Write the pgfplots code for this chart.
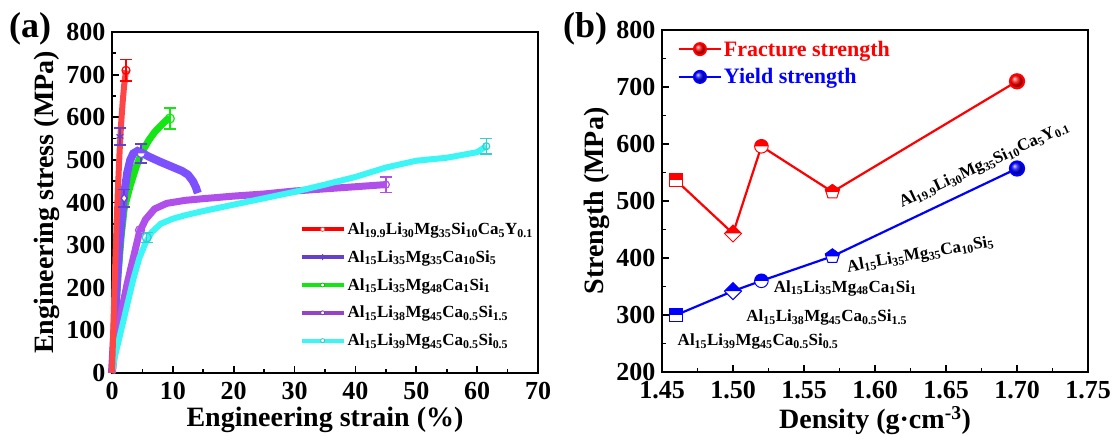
\documentclass[border=0pt]{standalone}
\usepackage{fontspec}
\setmainfont{Liberation Serif}
\usepackage{pgfplots}
\usepackage{pgfplotstable}
\pgfplotsset{compat=1.18}
\usetikzlibrary{plotmarks}
\newcommand{\s}[1]{\textsubscript{#1}}
\definecolor{cred}{RGB}{255,70,70}
\definecolor{cviolet}{RGB}{125,80,255}
\definecolor{cgreen}{RGB}{20,230,20}
\definecolor{cpurple}{RGB}{175,80,235}
\definecolor{ccyan}{RGB}{60,245,245}
\definecolor{bred}{RGB}{255,0,0}
\definecolor{bblue}{RGB}{0,0,255}
\newcommand\declhalfmarks[1]{%
\pgfdeclareplotmark{hsq#1}{%
 \pgfsetlinewidth{1pt}%
 \pgfpathrectangle{\pgfqpoint{-\pgfplotmarksize}{-\pgfplotmarksize}}{\pgfqpoint{2\pgfplotmarksize}{2\pgfplotmarksize}}%
 \pgfsetfillcolor{white}\pgfusepath{fill}%
 \pgfpathrectangle{\pgfqpoint{-\pgfplotmarksize}{0pt}}{\pgfqpoint{2\pgfplotmarksize}{\pgfplotmarksize}}%
 \pgfsetfillcolor{#1}\pgfusepath{fill}%
 \pgfpathrectangle{\pgfqpoint{-\pgfplotmarksize}{-\pgfplotmarksize}}{\pgfqpoint{2\pgfplotmarksize}{2\pgfplotmarksize}}%
 \pgfsetstrokecolor{#1}\pgfusepath{stroke}}%
\pgfdeclareplotmark{hdi#1}{%
 \pgfsetlinewidth{1pt}%
 \pgfpathmoveto{\pgfqpoint{0pt}{\pgfplotmarksize}}\pgfpathlineto{\pgfqpoint{\pgfplotmarksize}{0pt}}%
 \pgfpathlineto{\pgfqpoint{0pt}{-\pgfplotmarksize}}\pgfpathlineto{\pgfqpoint{-\pgfplotmarksize}{0pt}}\pgfpathclose
 \pgfsetfillcolor{white}\pgfusepath{fill}%
 \pgfpathmoveto{\pgfqpoint{0pt}{\pgfplotmarksize}}\pgfpathlineto{\pgfqpoint{\pgfplotmarksize}{0pt}}%
 \pgfpathlineto{\pgfqpoint{-\pgfplotmarksize}{0pt}}\pgfpathclose
 \pgfsetfillcolor{#1}\pgfusepath{fill}%
 \pgfpathmoveto{\pgfqpoint{0pt}{\pgfplotmarksize}}\pgfpathlineto{\pgfqpoint{\pgfplotmarksize}{0pt}}%
 \pgfpathlineto{\pgfqpoint{0pt}{-\pgfplotmarksize}}\pgfpathlineto{\pgfqpoint{-\pgfplotmarksize}{0pt}}\pgfpathclose
 \pgfsetstrokecolor{#1}\pgfusepath{stroke}}%
\pgfdeclareplotmark{hci#1}{%
 \pgfsetlinewidth{1pt}%
 \pgfpathcircle{\pgfpointorigin}{\pgfplotmarksize}%
 \pgfsetfillcolor{white}\pgfusepath{fill}%
 \pgfpathmoveto{\pgfqpoint{\pgfplotmarksize}{0pt}}\pgfpatharc{0}{180}{\pgfplotmarksize}\pgfpathclose
 \pgfsetfillcolor{#1}\pgfusepath{fill}%
 \pgfpathcircle{\pgfpointorigin}{\pgfplotmarksize}%
 \pgfsetstrokecolor{#1}\pgfusepath{stroke}}%
\pgfdeclareplotmark{hpe#1}{%
 \pgfsetlinewidth{1pt}%
 \pgfpathmoveto{\pgfqpoint{0pt}{\pgfplotmarksize}}%
 \pgfpathlineto{\pgfqpoint{-0.951\pgfplotmarksize}{0.309\pgfplotmarksize}}%
 \pgfpathlineto{\pgfqpoint{-0.588\pgfplotmarksize}{-0.809\pgfplotmarksize}}%
 \pgfpathlineto{\pgfqpoint{0.588\pgfplotmarksize}{-0.809\pgfplotmarksize}}%
 \pgfpathlineto{\pgfqpoint{0.951\pgfplotmarksize}{0.309\pgfplotmarksize}}\pgfpathclose
 \pgfsetfillcolor{white}\pgfusepath{fill}%
 \pgfpathmoveto{\pgfqpoint{0pt}{\pgfplotmarksize}}%
 \pgfpathlineto{\pgfqpoint{-0.951\pgfplotmarksize}{0.309\pgfplotmarksize}}%
 \pgfpathlineto{\pgfqpoint{-0.851\pgfplotmarksize}{0pt}}%
 \pgfpathlineto{\pgfqpoint{0.851\pgfplotmarksize}{0pt}}%
 \pgfpathlineto{\pgfqpoint{0.951\pgfplotmarksize}{0.309\pgfplotmarksize}}\pgfpathclose
 \pgfsetfillcolor{#1}\pgfusepath{fill}%
 \pgfpathmoveto{\pgfqpoint{0pt}{\pgfplotmarksize}}%
 \pgfpathlineto{\pgfqpoint{-0.951\pgfplotmarksize}{0.309\pgfplotmarksize}}%
 \pgfpathlineto{\pgfqpoint{-0.588\pgfplotmarksize}{-0.809\pgfplotmarksize}}%
 \pgfpathlineto{\pgfqpoint{0.588\pgfplotmarksize}{-0.809\pgfplotmarksize}}%
 \pgfpathlineto{\pgfqpoint{0.951\pgfplotmarksize}{0.309\pgfplotmarksize}}\pgfpathclose
 \pgfsetstrokecolor{#1}\pgfusepath{stroke}}%
}
\declhalfmarks{bred}
\declhalfmarks{bblue}
\declhalfmarks{cviolet}
\pgfplotsset{
 mystyle/.style={
  scale only axis,
  axis line style={line width=2.2pt},
  tick pos=left, tick align=inside,
  major tick length=7pt, minor tick length=4pt,
  every tick/.append style={line width=1.8pt, black},
  tick label style={font=\bfseries\fontsize{26}{26}\selectfont},
  label style={font=\bfseries\fontsize{28}{30}\selectfont},
  /pgf/number format/assume math mode=true,
  yticklabel={\textbf{\pgfmathprintnumber{\tick}}},
  xticklabel shift=6pt, yticklabel shift=3pt,
  clip=false,
 },
 ebar/.style={error bars/y dir=both, error bars/y explicit,
   error bars/error bar style={line width=1.5pt},
   error bars/error mark options={rotate=90, mark size=6pt, line width=1.5pt}},
}
\pgfplotstableread{
x y c
1.46 536 s
1.50 443 d
1.52 596 c
1.57 516 p
1.70 710 b
}\fracture
\pgfplotstableread{
x y c
1.46 300 s
1.50 342 d
1.52 360 c
1.57 403 p
1.70 557 b
}\yield
\begin{document}
\begin{tikzpicture}
\useasboundingbox (0pt,0pt) rectangle (1118pt,441pt);
\node[anchor=base west, font=\bfseries\fontsize{36}{36}\selectfont, inner sep=0pt] at (9pt,403pt) {(a)};
\node[anchor=base west, font=\bfseries\fontsize{36}{36}\selectfont, inner sep=0pt] at (563pt,403pt) {(b)};
\begin{axis}[mystyle, at={(112pt,68pt)}, anchor=south west, width=426pt, height=341pt,
 xmin=0, xmax=70, ymin=0, ymax=800,
 xtick={0,10,...,70}, ytick={0,100,...,800}, minor x tick num=1, minor y tick num=1,
 xticklabel={\textbf{\pgfmathprintnumber{\tick}}},
 xlabel={Engineering strain (\%)}, ylabel={Engineering stress (MPa)},
 legend style={draw=none, fill=none, at={(0.44,0.447)}, anchor=north west,
   font=\bfseries\fontsize{17}{17}\selectfont, row sep=10.5pt, inner sep=0pt},
 legend cell align=left,
 legend image code/.code={\draw[mark repeat=2,mark phase=2,#1] plot coordinates {(0pt,0pt) (21pt,0pt) (42pt,0pt)};},
]
% curves
\addplot[cgreen, line width=7pt, forget plot] coordinates {(0,0)(0.5,120)(1,230)(1.5,320)(2,385)(3,440)(4,485)(5,520)(6,545)(7,565)(8,580)(9,594)(9.5,597)};
\addplot[cviolet, line width=8pt, forget plot] coordinates {(0,0)(0.4,100)(0.8,210)(1.2,300)(1.6,360)(2.0,420)(2.5,470)(3.0,500)(3.5,515)(4.2,521)(5,516)(6,508)(8,495)(10,483)(11.5,474)(12.5,465)(13.3,450)(13.8,435)(14.1,422)};
\addplot[cpurple, line width=7pt, forget plot] coordinates {(0,0)(0.5,60)(1.5,140)(2.5,210)(3.5,270)(4.5,330)(5.5,360)(7,385)(9,398)(12,405)(15,409)(20,415)(25,420)(30,427)(35,432)(40,437)(45,442)};
\addplot[ccyan, line width=6pt, forget plot] coordinates {(0,0)(0.5,40)(1.5,100)(2.5,160)(3.5,220)(4.5,270)(5.5,305)(6.5,330)(8,350)(10,362)(12,370)(15,380)(20,395)(25,410)(30,425)(35,442)(40,460)(45,482)(50,498)(55,505)(60,518)(61.5,532)};
\addplot[cred, line width=6pt, forget plot] coordinates {(0,0)(0.25,120)(0.5,240)(0.75,350)(1.0,440)(1.25,520)(1.5,585)(1.75,635)(2.0,675)(2.3,710)};
% markers with error bars
\addplot[bred, only marks, mark=o, mark size=4pt, mark options={fill=white, line width=1.2pt}, ebar, forget plot] coordinates {(2.3,710) +- (0,25)};
\addplot[cviolet!80!black, only marks, mark=asterisk, mark size=4pt, mark options={line width=1.2pt}, ebar, forget plot] coordinates {(1.3,555) +- (0,20)};
\addplot[cviolet!80!black, only marks, mark=diamond*, mark size=4pt, mark options={fill=white, line width=1.2pt}, ebar, forget plot] coordinates {(2.0,410) +- (0,20)};
\addplot[cviolet!80!black, only marks, mark=hcicviolet, mark size=4pt, ebar, forget plot] coordinates {(4.8,515) +- (0,22)};
\addplot[cgreen, only marks, mark=o, mark size=4.5pt, mark options={fill=white, line width=1.2pt}, ebar, forget plot] coordinates {(9.5,597) +- (0,25)};
\addplot[cpurple, only marks, mark=o, mark size=4.5pt, mark options={fill=white, line width=1.2pt}, forget plot] coordinates {(4.6,335)};
\addplot[cpurple, only marks, mark=o, mark size=3.5pt, mark options={fill=white, line width=1.2pt}, ebar, forget plot] coordinates {(45,442) +- (0,18)};
\addplot[ccyan!85!black, only marks, mark=o, mark size=4.5pt, mark options={fill=white, line width=1.2pt}, ebar, forget plot] coordinates {(5.7,318) +- (0,12)};
\addplot[ccyan!85!black, only marks, mark=o, mark size=3.5pt, mark options={fill=white, line width=1.2pt}, ebar, forget plot] coordinates {(61.5,532) +- (0,18)};
% legend
\addlegendimage{red, line width=4pt, mark=*, mark size=2pt, mark options={fill=white, draw=red!70, line width=0.8pt}}
\addlegendentry{Al\s{19.9}Li\s{30}Mg\s{35}Si\s{10}Ca\s{5}Y\s{0.1}}
\addlegendimage{cviolet!80!black, line width=4pt, mark=asterisk, mark size=3pt, mark options={line width=1pt}}
\addlegendentry{Al\s{15}Li\s{35}Mg\s{35}Ca\s{10}Si\s{5}}
\addlegendimage{cgreen, line width=4pt, mark=*, mark size=2pt, mark options={fill=white, draw=cgreen!80!black, line width=0.8pt}}
\addlegendentry{Al\s{15}Li\s{35}Mg\s{48}Ca\s{1}Si\s{1}}
\addlegendimage{cpurple!85!black, line width=4pt, mark=*, mark size=2pt, mark options={fill=white, draw=cpurple!70!black, line width=0.8pt}}
\addlegendentry{Al\s{15}Li\s{38}Mg\s{45}Ca\s{0.5}Si\s{1.5}}
\addlegendimage{ccyan, line width=4pt, mark=*, mark size=2pt, mark options={fill=white, draw=ccyan!80!black, line width=0.8pt}}
\addlegendentry{Al\s{15}Li\s{39}Mg\s{45}Ca\s{0.5}Si\s{0.5}}
\end{axis}
\begin{axis}[mystyle, at={(662pt,69pt)}, anchor=south west, width=426pt, height=342pt,
 xmin=1.45, xmax=1.75, ymin=200, ymax=800,
 xtick={1.45,1.5,1.55,1.6,1.65,1.7,1.75}, ytick={200,300,...,800}, minor x tick num=1, minor y tick num=1,
 xticklabel={\textbf{\pgfmathprintnumber[fixed, fixed zerofill, precision=2]{\tick}}},
 xlabel={Density (g·cm\textsuperscript{-3})}, ylabel={Strength (MPa)},
 legend style={draw=none, fill=none, at={(0.037,0.975)}, anchor=north west,
   font=\bfseries\fontsize{22}{22}\selectfont, row sep=7pt, inner sep=0pt},
 legend cell align=left,
 legend image code/.code={\draw[mark repeat=2,mark phase=2,#1] plot coordinates {(0pt,0pt) (21pt,0pt) (42pt,0pt)};},
]
\addplot[bred, line width=2.2pt, scatter, scatter src=explicit symbolic, forget plot,
  scatter/classes={
   s={mark=hsqbred, mark size=6.5pt},
   d={mark=hdibred, mark size=8.5pt},
   c={mark=hcibred, mark size=6.8pt},
   p={mark=hpebred, mark size=7.5pt},
   b={mark=ball, mark size=7pt, ball color=bred}}] table[x=x, y=y, meta=c] {\fracture};
\addplot[bblue, line width=2.2pt, scatter, scatter src=explicit symbolic, forget plot,
  scatter/classes={
   s={mark=hsqbblue, mark size=6.5pt},
   d={mark=hdibblue, mark size=8.5pt},
   c={mark=hcibblue, mark size=6.8pt},
   p={mark=hpebblue, mark size=7.5pt},
   b={mark=ball, mark size=7pt, ball color=bblue}}] table[x=x, y=y, meta=c] {\yield};
\addlegendimage{bred, line width=2pt, mark=ball, mark size=6pt, ball color=bred}
\addlegendentry{\textcolor{bred}{Fracture strength}}
\addlegendimage{bblue, line width=2pt, mark=ball, mark size=6pt, ball color=bblue}
\addlegendentry{\textcolor{bblue}{Yield strength}}
\begin{scope}[every node/.style={font=\bfseries\fontsize{17}{17}\selectfont}]
\node at (axis cs:1.5176,253) {Al\s{15}Li\s{39}Mg\s{45}Ca\s{0.5}Si\s{0.5}};
\node at (axis cs:1.566,295) {Al\s{15}Li\s{38}Mg\s{45}Ca\s{0.5}Si\s{1.5}};
\node at (axis cs:1.579,347) {Al\s{15}Li\s{35}Mg\s{48}Ca\s{1}Si\s{1}};
\node[rotate=10] at (axis cs:1.632,405) {Al\s{15}Li\s{35}Mg\s{35}Ca\s{10}Si\s{5}};
\node[rotate=25] at (axis cs:1.677,563) {Al\s{19.9}Li\s{30}Mg\s{35}Si\s{10}Ca\s{5}Y\s{0.1}};
\end{scope}
\end{axis}
\end{tikzpicture}
\end{document}
